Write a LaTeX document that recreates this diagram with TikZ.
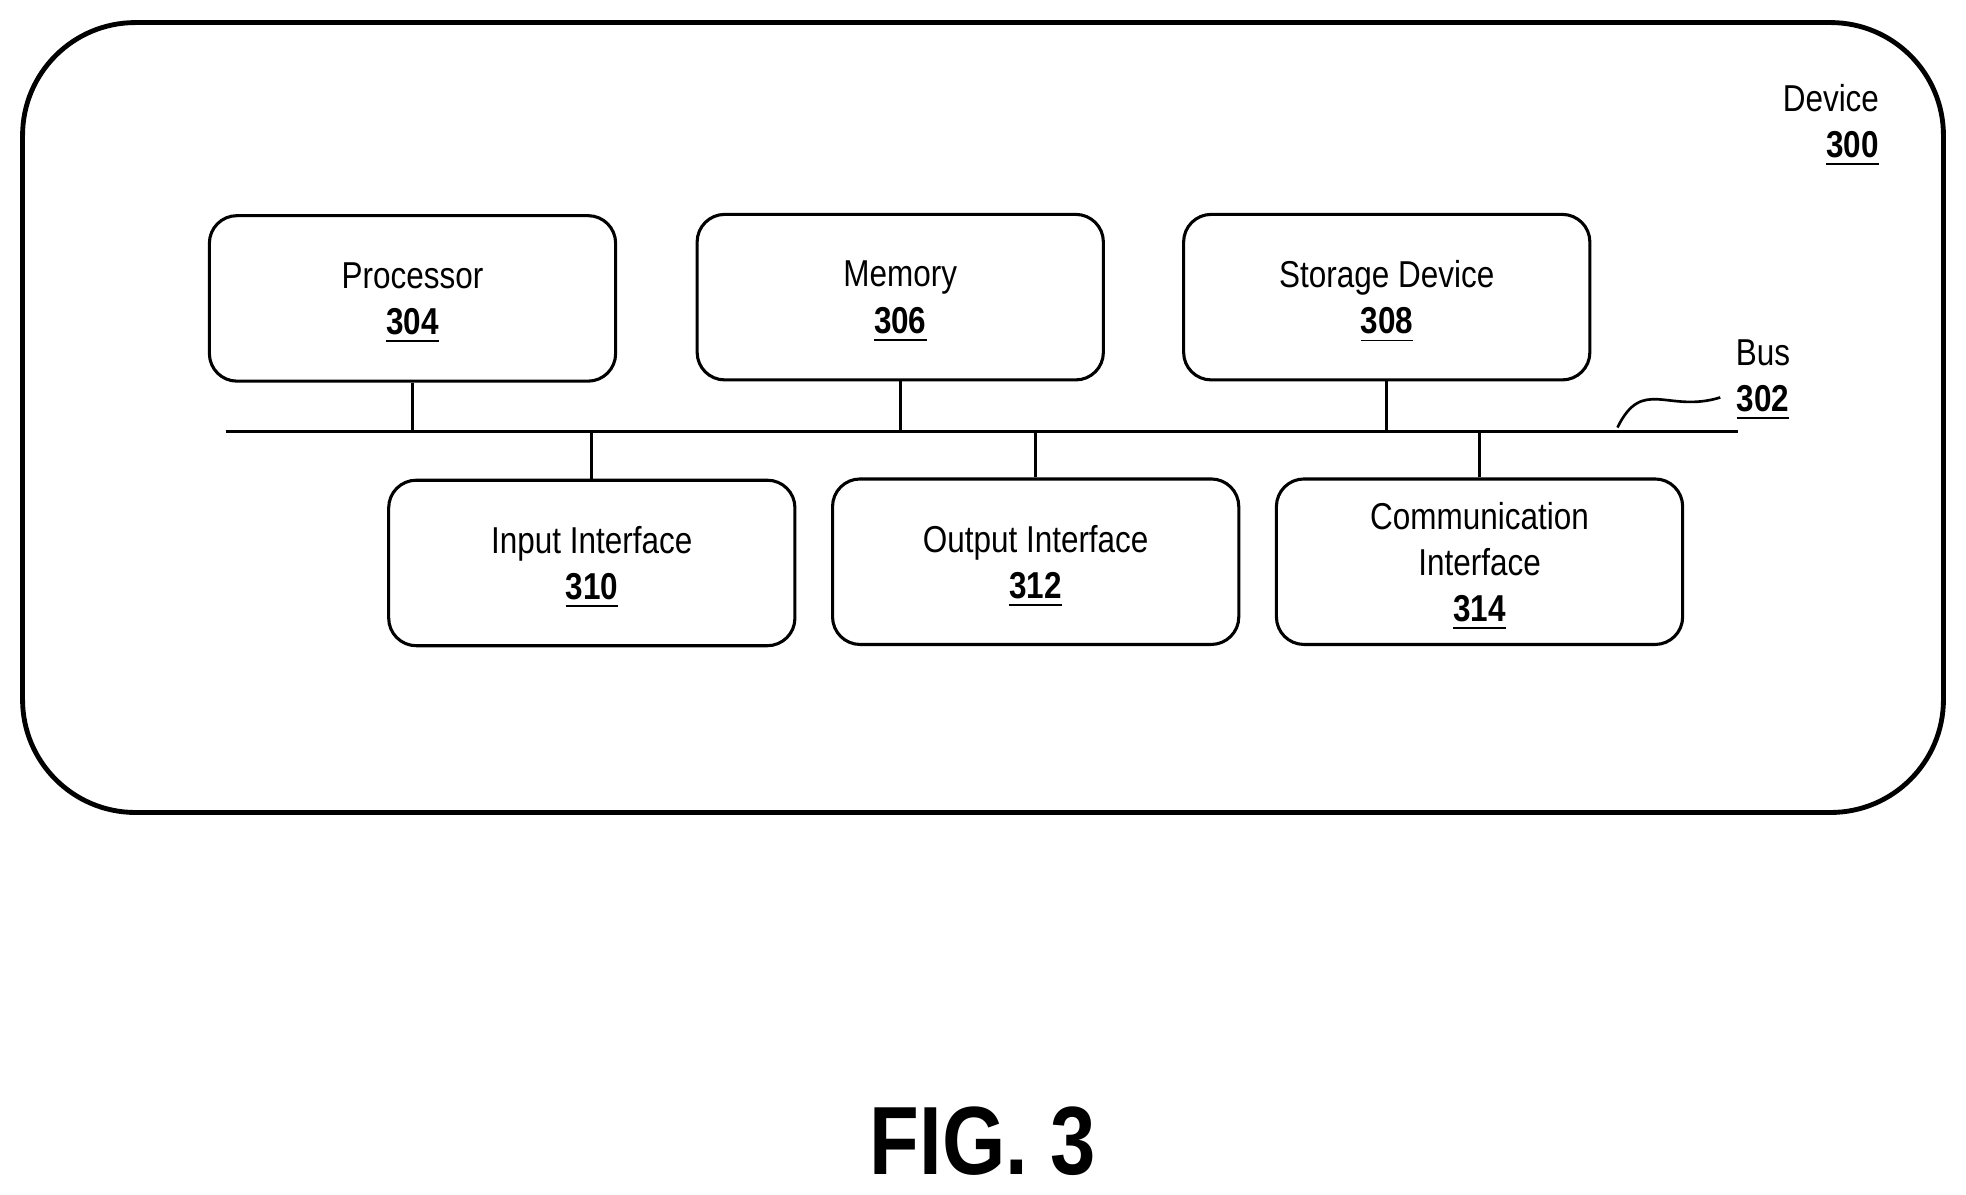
\documentclass[tikz,border=0pt]{standalone}
\usepackage{fontspec}
\setmainfont{Liberation Sans}[FakeStretch=0.84]
\usetikzlibrary{positioning}
\tikzstyle{unit} = [rectangle, draw, line width=0.7pt, rounded corners=0.22cm, minimum width=3.24cm, minimum height=1.32cm, align=center, text centered, font=\fontsize{8.5}{10.5}\selectfont]
\tikzstyle{label} = [draw=none, fill=none, align=center, font=\fontsize{8.5}{10.5}\selectfont]
\tikzstyle{link} = [draw, line width=0.7pt]
\newcommand{\refnum}[1]{\underline{\textbf{#1}}}
\begin{document}
\begin{tikzpicture}
	\useasboundingbox (0,0) rectangle (15.68,-9.53);
	% device outline
	\draw [line width=1.1pt, rounded corners=0.9cm] (0.18,-0.18) rectangle (15.5,-6.48);
	\node [label, anchor=east] (dev) at (15.11,-1.0) {\hfill Device\\ \hfill\refnum{300}};
	% place nodes
	\node [unit, text depth=-0.05cm] (proc) at (3.29,-2.38) {Processor\\ \refnum{304}};
	\node [unit, text depth=-0.05cm] (mem)  at (7.18,-2.37) {Memory\\ \refnum{306}};
	\node [unit, text depth=-0.05cm] (stor) at (11.06,-2.37) {Storage Device\\ \refnum{308}};
	\node [unit, text depth=-0.05cm] (inp)  at (4.72,-4.49) {Input Interface\\ \refnum{310}};
	\node [unit, text depth=-0.05cm] (outp) at (8.26,-4.48) {Output Interface\\ \refnum{312}};
	\node [unit, text depth=-0.05cm] (comm) at (11.80,-4.48) {Communication\\ Interface\\ \refnum{314}};
	% bus
	\coordinate (busL) at (1.80,-3.44);
	\coordinate (busR) at (13.86,-3.44);
	\path [link] (busL) -- (busR);
	\node [label] (bus) at (14.06,-3.03) {Bus\\ \refnum{302}};
	\coordinate (sq) at (12.90,-3.41);
	\draw [line width=0.6pt] (sq) .. controls (13.1,-3.0) and (13.3,-3.3) .. (13.72,-3.17);
	% draw edges
	\path [link] (proc) -- (proc |- busL);
	\path [link] (mem)  -- (mem |- busL);
	\path [link] (stor) -- (stor |- busL);
	\path [link] (inp)  -- (inp |- busL);
	\path [link] (outp) -- (outp |- busL);
	\path [link] (comm) -- (comm |- busL);
	% caption
	\node [label, font=\fontsize{22}{26}\selectfont\bfseries] (fig) at (7.84,-9.10) {FIG. 3};
\end{tikzpicture}
\end{document}
